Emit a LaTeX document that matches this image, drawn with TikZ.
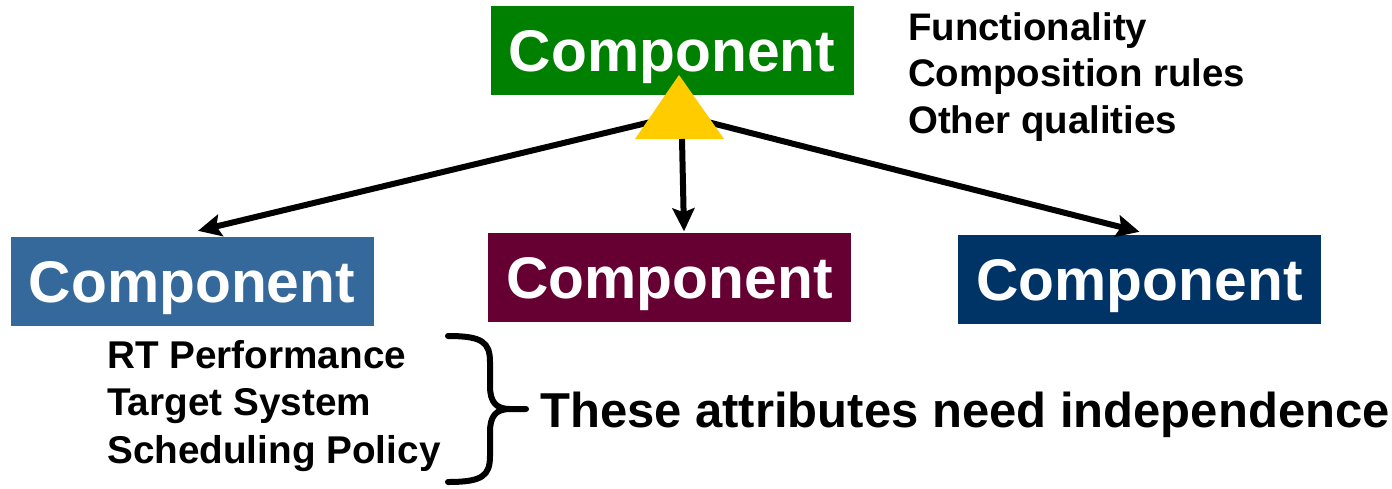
\documentclass[tikz,border=0pt]{standalone}
\usepackage{fontspec}
\setmainfont{Liberation Sans}
\usetikzlibrary{arrows.meta}
\definecolor{cgreen}{RGB}{0,128,0}
\definecolor{cblue}{RGB}{54,105,155}
\definecolor{cmaroon}{RGB}{102,0,51}
\definecolor{cnavy}{RGB}{0,51,102}
\definecolor{cyellow}{RGB}{255,204,0}
\tikzset{
  compbox/.style={inner sep=0pt, minimum width=363pt, minimum height=89pt,
    text=white, font=\fontsize{58.7}{60}\selectfont\bfseries,
    text height=42pt, text depth=0pt},
  attr/.style={inner sep=0pt, anchor=base west},
  conn/.style={line width=6pt, -{Stealth[length=23pt,width=22pt,inset=4pt]}},
  bracestyle/.style={line width=6pt, line cap=round, line join=round}
}
\begin{document}
\begin{tikzpicture}[x=1pt,y=-1pt]
\useasboundingbox (0,0) rectangle (1392,488);
% boxes
\node[compbox, fill=cgreen] (top) at (672,50.5) {Component};
\node[compbox, fill=cblue] (lb) at (192,281.5) {Component};
\node[compbox, fill=cmaroon] (mb) at (669.5,277) {Component};
\node[compbox, fill=cnavy] (rb) at (1139.5,279.5) {Component};
% triangle
\coordinate (tc) at (680,115);
\coordinate (ta) at (679,75);
\coordinate (tl) at (635,139);
\coordinate (tr) at (724,139);
\coordinate (tb) at (682,139);
% connectors
\draw[conn] (tc) -- ([xshift=6pt,yshift=6pt]lb.north);
\draw[conn] (tc) -- ([yshift=3pt]rb.north);
\fill[cyellow] (ta) -- (tl) -- (tr) -- cycle;
\draw[conn] (tb) -- ([xshift=14.5pt,yshift=1pt]mb.north);
% attribute lists
\node[attr, font=\fontsize{38.4}{40}\selectfont\bfseries] (f1) at (908,40) {Functionality};
\node[attr, font=\fontsize{38.4}{40}\selectfont\bfseries] (f2) at (908,86.5) {Composition rules};
\node[attr, font=\fontsize{38.4}{40}\selectfont\bfseries] (f3) at (908,133) {Other qualities};
\node[attr, font=\fontsize{38.7}{40}\selectfont\bfseries] (a1) at (107,368) {RT Performance};
\node[attr, font=\fontsize{38.7}{40}\selectfont\bfseries] (a2) at (107,415.5) {Target System};
\node[attr, font=\fontsize{38.7}{40}\selectfont\bfseries] (a3) at (107,463) {Scheduling Policy};
% brace
\coordinate (btip) at (526,409);
\draw[bracestyle] (448,336) .. controls (482,336) and (490,342) .. (490,362)
  -- (490,386) .. controls (490,402) and (496,409) .. (510,409) -- (btip);
\draw[bracestyle] (448,482) .. controls (482,482) and (490,476) .. (490,456)
  -- (490,432) .. controls (490,416) and (496,409) .. (510,409);
\node[attr, font=\fontsize{49}{50}\selectfont\bfseries] (ind) at (540,427) {These attributes need independence};
\end{tikzpicture}
\end{document}
